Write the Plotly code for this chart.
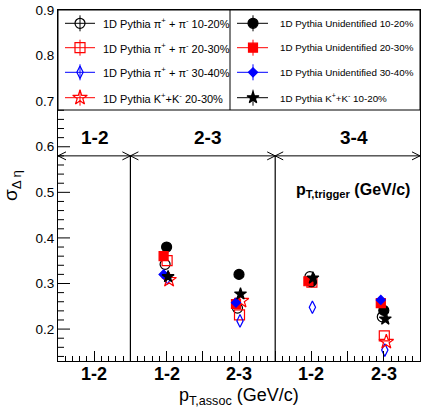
import plotly.graph_objects as go

# ---------------- data ----------------
assoc_labels = ["1-2", "1-2", "2-3", "1-2", "2-3"]
assoc_pos = [0, 1, 2, 3, 4]
trigger_edges = [-0.5, 0.5, 2.5, 4.5]
trigger_labels = ["1-2", "2-3", "3-4"]
y_ticks = [0.2, 0.3, 0.4, 0.5, 0.6, 0.7, 0.8, 0.9]

pi_10_20 = [None, 0.342, 0.246, 0.315, 0.227]
pi_20_30 = [None, 0.350, 0.231, 0.303, 0.185]
pi_30_40 = [None, 0.312, 0.218, 0.248, 0.154]
kk_20_30 = [None, 0.308, 0.262, None, 0.172]
unid_10_20 = [None, 0.380, 0.320, 0.304, 0.241]
unid_20_30 = [None, 0.360, 0.255, 0.305, 0.257]
unid_30_40 = [None, 0.320, 0.258, None, 0.264]
kk_10_20 = [None, 0.315, 0.277, 0.312, 0.222]

# ---------------- style ----------------
FONT = "Liberation Sans"
PX = 1 / 72.4  # one pixel in x data units (approx)
LEGEND_BOTTOM = 0.68  # y value hidden by legend box

series = [
    # name, values, symbol, color, size, x-offset(px)
    ("1D Pythia π<sup>+</sup> + π<sup>-</sup> 10-20%", pi_10_20, "circle-open", "black", 10, -1.5),
    ("1D Pythia π<sup>+</sup> + π<sup>-</sup> 20-30%", pi_20_30, "square-open", "red", 10, 0.5),
    ("1D Pythia π<sup>+</sup> + π<sup>-</sup> 30-40%", pi_30_40, "diamond-tall-open", "blue", 9, 1),
    ("1D Pythia K<sup>+</sup>+K<sup>-</sup> 20-30%", kk_20_30, "star-open", "red", 11, 2.5),
    ("1D Pythia Unidentified 10-20%", unid_10_20, "circle", "black", 10, 0),
    ("1D Pythia Unidentified 20-30%", unid_20_30, "square", "red", 9, -3),
    ("1D Pythia Unidentified 30-40%", unid_30_40, "diamond", "blue", 7, -3),
    ("1D Pythia K<sup>+</sup>+K<sup>-</sup> 10-20%", kk_10_20, "star", "black", 9, 1.5),
]

fig = go.Figure()

# data traces
for name, vals, sym, col, size, off in series:
    fig.add_trace(go.Scatter(
        x=[p + off * PX for p in assoc_pos], y=vals, mode="markers",
        marker=dict(symbol=sym, color=col, size=size,
                    line=dict(color=col, width=1.2)),
        showlegend=False, cliponaxis=False))

# ---------------- manual legend (on pixel overlay axes) ----------------
fig.add_trace(go.Scatter(x=[0, 362, 362, 0, 0], y=[0, 0, 100, 100, 0], mode="lines",
                         fill="toself", fillcolor="white",
                         line=dict(color="black", width=1), xaxis="x2", yaxis="y2",
                         showlegend=False, hoverinfo="skip"))
fig.add_trace(go.Scatter(x=[172, 172], y=[0, 100], mode="lines",
                         line=dict(color="black", width=1), xaxis="x2", yaxis="y2",
                         showlegend=False, hoverinfo="skip"))

rows = [13.3, 37.7, 62.3, 87.7]
cols = [dict(l=7, m=22, r=37, t=43, fs=11), dict(l=179, m=195, r=210, t=220, fs=9.8)]
for i, (name, vals, sym, col, size, off) in enumerate(series):
    c = cols[i // 4]
    yrow = rows[i % 4]
    fig.add_trace(go.Scatter(x=[c["l"], c["r"]], y=[yrow, yrow], mode="lines",
                             line=dict(color=col, width=1), xaxis="x2", yaxis="y2",
                             showlegend=False, hoverinfo="skip"))
    fig.add_trace(go.Scatter(x=[c["m"]], y=[yrow], mode="markers",
                             marker=dict(symbol=sym, color=col, size=size,
                                         line=dict(color=col, width=1.2)),
                             error_y=dict(type="constant", value=8, width=0,
                                          color=col, thickness=1),
                             xaxis="x2", yaxis="y2", showlegend=False, hoverinfo="skip"))
    fig.add_annotation(x=c["t"], y=yrow, xref="x2", yref="y2", text=name,
                       showarrow=False, xanchor="left", yanchor="middle",
                       font=dict(family=FONT, size=c["fs"], color="black"))

shapes = []
# trigger bins line with arrows
ytrig = 0.58
dx = 8 * PX
dy = 4 / 455.8
shapes.append(dict(type="line", xref="x", yref="y", x0=trigger_edges[0], x1=trigger_edges[-1],
                   y0=ytrig, y1=ytrig, line=dict(color="black", width=1)))
for k, e in enumerate(trigger_edges):
    if 0 < k < len(trigger_edges) - 1:
        shapes.append(dict(type="line", xref="x", yref="y", x0=e, x1=e, y0=0.13, y1=ytrig,
                           line=dict(color="black", width=1.2)))
    if k > 0:
        shapes.append(dict(type="path", xref="x", yref="y",
                           path=f"M {e-dx},{ytrig+dy} L {e},{ytrig} L {e-dx},{ytrig-dy}",
                           line=dict(color="black", width=1)))
    if k < len(trigger_edges) - 1:
        shapes.append(dict(type="path", xref="x", yref="y",
                           path=f"M {e+dx},{ytrig+dy} L {e},{ytrig} L {e+dx},{ytrig-dy}",
                           line=dict(color="black", width=1)))

# y-axis ticks, drawn only below the legend box
major_vis = [v for v in y_ticks if v < LEGEND_BOTTOM]
minor_vis = [round(0.14 + 0.02 * i, 2) for i in range(28)]
minor_vis = [v for v in minor_vis if v < LEGEND_BOTTOM + 0.001 and round(v * 10, 6) % 1 != 0]
for v in major_vis:
    shapes.append(dict(type="line", xref="paper", yref="y", x0=0, x1=12 / 362, y0=v, y1=v,
                       line=dict(color="black", width=1)))
for v in minor_vis:
    shapes.append(dict(type="line", xref="paper", yref="y", x0=0, x1=6 / 362, y0=v, y1=v,
                       line=dict(color="black", width=1)))

label_x = [0.0, 1.56, 3.59]
for lx, lab in zip(label_x, trigger_labels):
    fig.add_annotation(x=lx, y=ytrig + 0.012, xref="x", yref="y", text=f"<b>{lab}</b>",
                       showarrow=False, yanchor="bottom",
                       font=dict(family=FONT, size=19, color="black"))
fig.add_annotation(x=3.58, y=0.505, xref="x", yref="y",
                   text="<b>p<sub>T,trigger</sub> (GeV/c)</b>", showarrow=False,
                   font=dict(family=FONT, size=16, color="black"))

# x tick labels and x title (as annotations under the axis)
for p, lab in zip(assoc_pos, assoc_labels):
    fig.add_annotation(x=p, y=0, xref="x", yref="paper", text=f"<b>{lab}</b>",
                       showarrow=False, yanchor="middle", yshift=-13,
                       font=dict(family=FONT, size=18, color="black"))
fig.add_annotation(x=0.5, y=0, xref="paper", yref="paper",
                   text="p<sub>T,assoc</sub> (GeV/c)", showarrow=False,
                   yanchor="middle", yshift=-35,
                   font=dict(family=FONT, size=18, color="black"))

fig.update_layout(
    width=422, height=411,
    margin=dict(l=58, r=2, t=10, b=50),
    paper_bgcolor="white", plot_bgcolor="white",
    shapes=shapes,
    font=dict(family=FONT, color="black"),
    xaxis=dict(range=[-0.5, 4.5], showgrid=False, zeroline=False,
               showline=True, mirror=True, linecolor="black", linewidth=1,
               tickmode="array",
               tickvals=[v / 2 for v in range(-1, 10)],
               showticklabels=False,
               ticks="inside", ticklen=10, tickcolor="black",
               minor=dict(dtick=0.1, tick0=-0.5, ticks="inside", ticklen=5, tickcolor="black")),
    yaxis=dict(range=[0.13, 0.9], showgrid=False, zeroline=False,
               showline=True, mirror=True, linecolor="black", linewidth=1,
               tickmode="array", tickvals=y_ticks, tickformat=".1f",
               ticks="",
               tickfont=dict(family=FONT, size=13.5, color="black"),
               title=dict(text="σ<sub>Δ η</sub>", standoff=18,
                          font=dict(family=FONT, size=19, color="black"))),
    xaxis2=dict(overlaying="x", range=[0, 362], visible=False, fixedrange=True),
    yaxis2=dict(overlaying="y", range=[351, 0], visible=False, fixedrange=True),
)

fig.write_html("out.html")
